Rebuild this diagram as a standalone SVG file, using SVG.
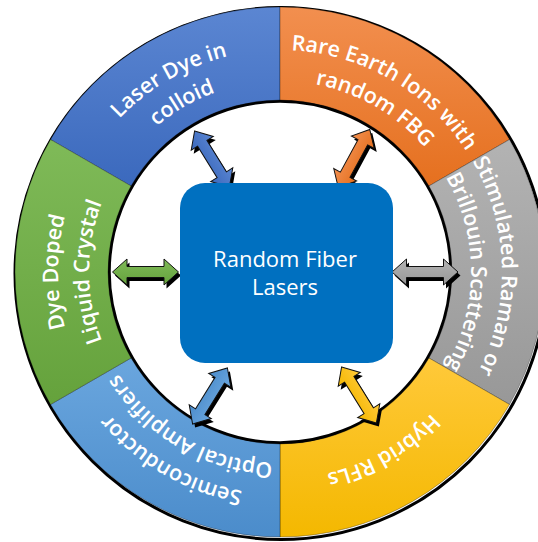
<svg xmlns="http://www.w3.org/2000/svg" width="538" height="542" viewBox="0 0 538 542">
  <defs>
    <linearGradient id="gBlue" x1="0" y1="0" x2="0" y2="1"><stop offset="0" stop-color="#5b86d2"/><stop offset="1" stop-color="#3b69bd"/></linearGradient>
    <linearGradient id="gOrange" x1="0" y1="0" x2="0" y2="1"><stop offset="0" stop-color="#f28f4f"/><stop offset="1" stop-color="#e5701f"/></linearGradient>
    <linearGradient id="gGray" x1="0" y1="0" x2="0" y2="1"><stop offset="0" stop-color="#b3b3b3"/><stop offset="1" stop-color="#989898"/></linearGradient>
    <linearGradient id="gYellow" x1="0" y1="0" x2="0" y2="1"><stop offset="0" stop-color="#ffc93a"/><stop offset="1" stop-color="#f4b800"/></linearGradient>
    <linearGradient id="gLBlue" x1="0" y1="0" x2="0" y2="1"><stop offset="0" stop-color="#6aa6de"/><stop offset="1" stop-color="#4b8ccb"/></linearGradient>
    <linearGradient id="gGreen" x1="0" y1="0" x2="0" y2="1"><stop offset="0" stop-color="#7fba58"/><stop offset="1" stop-color="#65a23c"/></linearGradient>
    <polygon id="arrow" points="-33,0 -18.5,-13 -18.5,-5.5 18.5,-5.5 18.5,-13 33,0 18.5,13 18.5,5.5 -18.5,5.5 -18.5,13"/>
    <path id="tBlue1" d="M71.38,347.93 A222,222 0 0 1 450.06,129.30"/>
    <path id="tBlue2" d="M100.52,337.32 A191,191 0 0 1 426.31,149.23"/>
    <path id="tOrange1" d="M109.94,129.30 A222,222 0 0 1 488.62,347.93"/>
    <path id="tOrange2" d="M133.69,149.23 A191,191 0 0 1 459.48,337.32"/>
    <path id="tGray1" d="M318.54,53.37 A222,222 0 0 1 318.54,490.63"/>
    <path id="tGray2" d="M313.16,83.90 A191,191 0 0 1 313.16,460.10"/>
    <path id="tYellow" d="M474.52,201.21 A207,207 0 0 1 121.44,405.06"/>
    <path id="tLBlue1" d="M450.06,414.70 A222,222 0 0 1 71.38,196.07"/>
    <path id="tLBlue2" d="M426.31,394.77 A191,191 0 0 1 100.52,206.68"/>
    <path id="tGreen1" d="M241.46,490.63 A222,222 0 0 1 241.46,53.37"/>
    <path id="tGreen2" d="M246.84,460.10 A191,191 0 0 1 246.84,83.90"/>
  </defs>
  <style>
    .seg { stroke: #000; stroke-opacity: 0.3; stroke-width: 1; }
    .lbl { font-family: "Open Sans", "Noto Sans", sans-serif; font-size: 21.5px; font-weight: 600; fill: #fff; }
    .ctr { font-family: "Open Sans", "Noto Sans", sans-serif; font-size: 22px; fill: #fff; text-anchor: middle; }
    .shadow { fill: #000; }
    .arr { stroke: #111; stroke-width: 1; stroke-linejoin: miter; }
  </style>
  <rect width="538" height="542" fill="#fff"/>
  <g id="ring-outline" fill="none" stroke="#000">
    <circle cx="281" cy="273.5" r="266" stroke-width="3"/>
    <circle cx="280" cy="272" r="171" stroke-width="3.5"/>
  </g>
  <g id="node-laser-dye">
    <path class="seg" fill="url(#gBlue)" d="M50.5,139.5 A265,265 0 0 1 280,7 L280,100 A172,172 0 0 0 131.04,186 Z"/>
    <text class="lbl"><textPath href="#tBlue1" startOffset="50%" text-anchor="middle">Laser Dye in</textPath></text>
    <text class="lbl"><textPath href="#tBlue2" startOffset="50%" text-anchor="middle">colloid</textPath></text>
  </g>
  <g id="node-rare-earth">
    <path class="seg" fill="url(#gOrange)" d="M280,7 A265,265 0 0 1 509.5,139.5 L428.96,186 A172,172 0 0 0 280,100 Z"/>
    <text class="lbl"><textPath href="#tOrange1" startOffset="50%" text-anchor="middle">Rare Earth Ions with</textPath></text>
    <text class="lbl"><textPath href="#tOrange2" startOffset="50%" text-anchor="middle">random FBG</textPath></text>
  </g>
  <g id="node-stimulated">
    <path class="seg" fill="url(#gGray)" d="M509.5,139.5 A265,265 0 0 1 509.5,404.5 L428.96,358 A172,172 0 0 0 428.96,186 Z"/>
    <text class="lbl"><textPath href="#tGray1" startOffset="49%" text-anchor="middle">Stimulated Raman or</textPath></text>
    <text class="lbl"><textPath href="#tGray2" startOffset="50%" text-anchor="middle">Brillouin Scattering</textPath></text>
  </g>
  <g id="node-hybrid">
    <path class="seg" fill="url(#gYellow)" d="M509.5,404.5 A265,265 0 0 1 280,537 L280,444 A172,172 0 0 0 428.96,358 Z"/>
    <text class="lbl"><textPath href="#tYellow" startOffset="50%" text-anchor="middle">Hybrid RFLs</textPath></text>
  </g>
  <g id="node-soa">
    <path class="seg" fill="url(#gLBlue)" d="M280,537 A265,265 0 0 1 50.5,404.5 L131.04,358 A172,172 0 0 0 280,444 Z"/>
    <text class="lbl"><textPath href="#tLBlue1" startOffset="50%" text-anchor="middle">Semiconductor</textPath></text>
    <text class="lbl"><textPath href="#tLBlue2" startOffset="50%" text-anchor="middle">Optical Amplifiers</textPath></text>
  </g>
  <g id="node-dye-doped">
    <path class="seg" fill="url(#gGreen)" d="M50.5,404.5 A265,265 0 0 1 50.5,139.5 L131.04,186 A172,172 0 0 0 131.04,358 Z"/>
    <text class="lbl"><textPath href="#tGreen1" startOffset="50%" text-anchor="middle">Dye Doped</textPath></text>
    <text class="lbl"><textPath href="#tGreen2" startOffset="50%" text-anchor="middle">Liquid Crystal</textPath></text>
  </g>
  <g id="connectors">
    <g id="arrow-blue">
      <use href="#arrow" class="shadow" transform="translate(214.5,162.5) rotate(58.2)"/>
      <use href="#arrow" class="arr" fill="url(#gBlue)" transform="translate(212,159) rotate(58.2)"/>
    </g>
    <g id="arrow-orange">
      <use href="#arrow" class="shadow" transform="translate(356.5,162) rotate(-61.5)"/>
      <use href="#arrow" class="arr" fill="url(#gOrange)" transform="translate(354,158.5) rotate(-61.5)"/>
    </g>
    <g id="arrow-gray">
      <use href="#arrow" class="shadow" transform="translate(427.5,275.5)"/>
      <use href="#arrow" class="arr" fill="url(#gGray)" transform="translate(425,272)"/>
    </g>
    <g id="arrow-yellow">
      <use href="#arrow" class="shadow" transform="translate(361.5,398.5) rotate(58.2)"/>
      <use href="#arrow" class="arr" fill="url(#gYellow)" transform="translate(359,395) rotate(58.2)"/>
    </g>
    <g id="arrow-lblue">
      <use href="#arrow" class="shadow" transform="translate(212.5,399.5) rotate(121.8)"/>
      <use href="#arrow" class="arr" fill="url(#gLBlue)" transform="translate(210,396) rotate(121.8)"/>
    </g>
    <g id="arrow-green">
      <use href="#arrow" class="shadow" transform="translate(148,275.5)"/>
      <use href="#arrow" class="arr" fill="url(#gGreen)" transform="translate(145.5,272)"/>
    </g>
  </g>
  <g id="node-center">
    <rect x="180" y="183" width="213" height="180" rx="25" ry="25" fill="#0070c0"/>
    <text class="ctr" x="285" y="267">Random Fiber</text>
    <text class="ctr" x="285" y="295">Lasers</text>
  </g>
</svg>
